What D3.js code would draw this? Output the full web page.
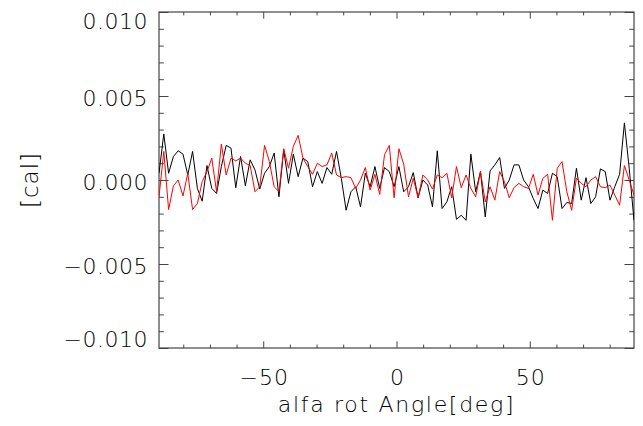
<!DOCTYPE html>
<html>
<head>
<meta charset="utf-8">
<script src="https://cdn.jsdelivr.net/npm/d3@7"></script>
<style>
  html, body { margin: 0; padding: 0; background: #fff; }
  svg { display: block; }
  text { font-family: "DejaVu Sans", sans-serif; font-weight: 200; fill: #000; }
</style>
</head>
<body>
<svg id="chart" width="643" height="426"></svg>
<script>
// ---- data (values in cal) ----
const angleStart = -89.1;          // deg, first sample
const angleStep = 1.8;             // deg, sampling step
const blackSeries = [
  0.40, 2.74, 0.40, 1.40, 1.74, 1.54, 0.30, 1.70, -0.50, -1.26,
  0.86, -0.50, -0.80, 0.80, 2.06, 1.90, -0.46, 1.40, -0.34, 1.20,
  0.60, -0.54, 0.40, 0.80, 1.60, -1.00, 1.80, -0.20, 1.54, 0.20,
  1.30, 1.10, -0.40, 0.50, -0.20, 0.74, 0.34, 1.70, 0.10, -1.80,
  -0.70, -0.40, -1.60, 0.40, -0.40, 0.80, -0.50, 0.74, 0.50, -0.40,
  0.80, -0.70, -0.40, 0.44, -1.06, 0.00, -0.30, -1.60, 1.74, -1.70,
  -1.30, -0.40, -2.34, -2.10, -2.40, 1.54, -0.70, 0.50, -2.20, 0.54,
  0.90, 1.34, -0.50, 0.00, 0.90, 0.90, 0.00, -0.40, -1.10, -1.70,
  -0.60, -0.80, 0.40, 0.20, -1.70, -1.34, -1.40, 0.70, -1.20, 0.14,
  -1.40, -1.00, 0.66, 0.50, -1.20, -0.40, 0.34, 3.40, 0.70, -2.40
].map(v => v / 1000);
const redSeries = [
  -1.00, 1.70, -1.76, -0.35, 0.00, -0.95, 0.40, -1.76, -1.40, -0.10,
  0.50, 1.30, -0.70, 2.14, 0.30, 1.30, 1.14, 1.30, 1.00, 0.86,
  -0.70, -0.40, 2.06, 1.10, -0.40, -0.70, 1.86, 0.70, 2.00, 2.66,
  1.30, 0.80, 0.34, 1.00, 0.80, 0.90, 1.60, 0.30, 0.14, 0.20,
  0.14, -0.50, 0.00, 0.74, -0.60, 0.34, -0.86, 1.50, 2.06, -1.06,
  1.86, 0.94, -1.00, 0.10, -1.06, 0.30, 0.00, -0.54, 0.30, 0.14,
  0.40, -1.06, 0.80, -0.46, 0.30, -0.50, -1.00, 0.50, -1.30, -0.40,
  -1.20, 0.50, -0.10, -1.06, -0.45, -0.20, -0.40, -0.50, 0.34, -0.90,
  0.10, 0.34, -2.40, 0.70, 1.10, -0.70, -1.80, 0.10, -0.20, -0.40,
  0.00, 0.20, -0.40, -0.46, -0.30, -0.90, -1.50, 0.86, 0.00, -0.90
].map(v => v / 1000);
const xMajorTicks = [-50, 0, 50];
const xMinorTicks = [-80, -70, -60, -40, -30, -20, -10, 10, 20, 30, 40, 60, 70, 80];
const yMajorTicks = [-0.010, -0.005, 0.000, 0.005, 0.010];
const yMinorTicks = [-0.009, -0.008, -0.007, -0.006, -0.004, -0.003, -0.002, -0.001,
                     0.001, 0.002, 0.003, 0.004, 0.006, 0.007, 0.008, 0.009];
const yTickLabels = ["\u22120.010", "\u22120.005", "0.000", "0.005", "0.010"];
const xTickLabels = ["\u221250", "0", "50"];
const xTitle = "alfa rot Angle[deg]";
const yTitle = "[cal]";

// ---- layout ----
const L = 159, R = 634, T = 12, B = 348;
const svg = d3.select("#chart");
const angles = blackSeries.map((_, i) => angleStart + angleStep * i);
const x = d3.scaleLinear().domain([angleStart, angleStart + angleStep * (blackSeries.length - 1)]).range([L, R]);
const y = d3.scaleLinear().domain([-0.010, 0.010]).range([B, T]);

const axisColor = "#444";
const xMajLen = 6.7, xMinLen = 3.4, yMajLen = 9.5, yMinLen = 4.8;

function styleAxis(g) {
  g.select(".domain").remove();
  g.selectAll(".tick line").attr("stroke", axisColor).attr("stroke-width", 1);
}

// bottom axis
svg.append("g").attr("transform", `translate(0,${B})`)
  .call(d3.axisBottom(x).tickValues(xMinorTicks).tickSize(-xMinLen).tickFormat(""))
  .call(styleAxis);
const bx = svg.append("g").attr("transform", `translate(0,${B})`)
  .call(d3.axisBottom(x).tickValues(xMajorTicks).tickSize(-xMajLen).tickPadding(21.5)
        .tickFormat((d, i) => xTickLabels[i]))
  .call(styleAxis);
bx.selectAll("text").style("font-size", "22px").style("letter-spacing", "1px")
  .attr("fill", "#000").attr("font-family", null).attr("dx", "0.5px");

// top axis
svg.append("g").attr("transform", `translate(0,${T})`)
  .call(d3.axisTop(x).tickValues(xMinorTicks).tickSize(-xMinLen).tickFormat(""))
  .call(styleAxis);
svg.append("g").attr("transform", `translate(0,${T})`)
  .call(d3.axisTop(x).tickValues(xMajorTicks).tickSize(-xMajLen).tickFormat(""))
  .call(styleAxis);

// left axis
svg.append("g").attr("transform", `translate(${L},0)`)
  .call(d3.axisLeft(y).tickValues(yMinorTicks).tickSize(-yMinLen).tickFormat(""))
  .call(styleAxis);
const ly = svg.append("g").attr("transform", `translate(${L},0)`)
  .call(d3.axisLeft(y).tickValues(yMajorTicks).tickSize(-yMajLen).tickPadding(11)
        .tickFormat((d, i) => yTickLabels[i]))
  .call(styleAxis);
ly.selectAll("text").style("font-size", "22px").style("letter-spacing", "0.5px")
  .attr("fill", "#000").attr("font-family", null)
  .attr("dy", d => d >= 0.0099 ? "0.75em" : (d <= -0.0099 ? "-0.05em" : "0.42em"));

// right axis
svg.append("g").attr("transform", `translate(${R},0)`)
  .call(d3.axisRight(y).tickValues(yMinorTicks).tickSize(-yMinLen).tickFormat(""))
  .call(styleAxis);
svg.append("g").attr("transform", `translate(${R},0)`)
  .call(d3.axisRight(y).tickValues(yMajorTicks).tickSize(-yMajLen).tickFormat(""))
  .call(styleAxis);

// frame
svg.append("rect").attr("x", L).attr("y", T).attr("width", R - L).attr("height", B - T)
  .attr("fill", "none").attr("stroke", axisColor).attr("stroke-width", 1.2);

// clip
svg.append("clipPath").attr("id", "plotclip").append("rect")
  .attr("x", L).attr("y", T).attr("width", R - L).attr("height", B - T);

const line = d3.line().x((d, i) => x(angles[i])).y(d => y(d));
const plot = svg.append("g").attr("clip-path", "url(#plotclip)");
plot.append("path").datum(blackSeries).attr("d", line)
  .attr("fill", "none").attr("stroke", "#000").attr("stroke-width", 1);
plot.append("path").datum(redSeries).attr("d", line)
  .attr("fill", "none").attr("stroke", "#ff0000").attr("stroke-width", 1);

// titles
svg.append("text").attr("x", (L + R) / 2 + 0).attr("y", 412)
  .attr("text-anchor", "middle").style("font-size", "22px").style("letter-spacing", "1.7px")
  .attr("fill", "#000").text(xTitle);
svg.append("text").attr("transform", `translate(38,${(T + B) / 2}) rotate(-90)`)
  .attr("text-anchor", "middle").style("font-size", "23px").style("letter-spacing", "1px")
  .attr("fill", "#000").text(yTitle);
</script>
</body>
</html>
